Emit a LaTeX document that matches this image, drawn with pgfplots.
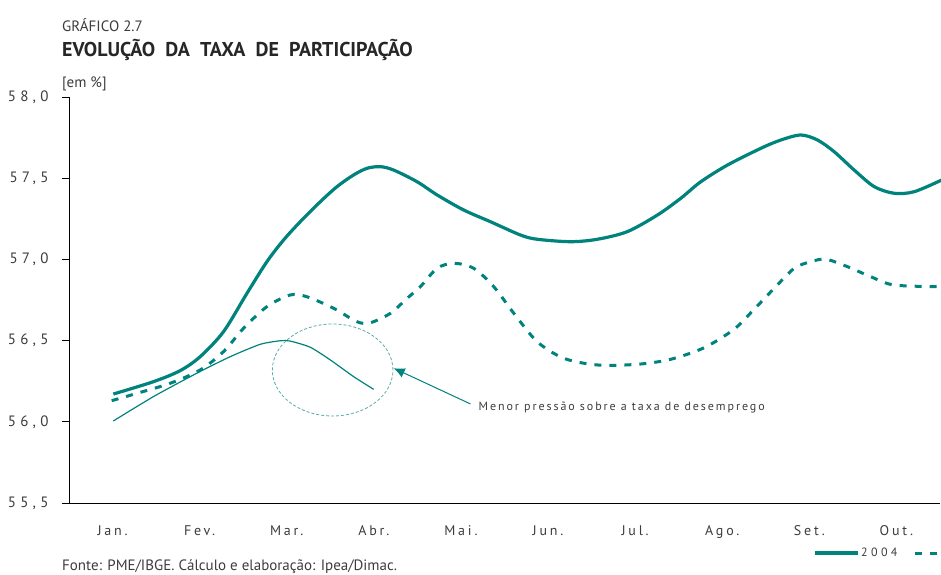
\documentclass[border=0pt]{standalone}
\usepackage{pgfplots}
\pgfplotsset{compat=1.18}
\usetikzlibrary{arrows.meta}
\usepackage{fontspec}
\setmainfont{PT Sans}
\newfontfamily\spaced[LetterSpace=20]{PT Sans}
\newfontfamily\spacedy[LetterSpace=28]{PT Sans}
\newfontfamily\spacedsmall[LetterSpace=16]{PT Sans}
\newfontfamily\spacedleg[LetterSpace=28]{PT Sans}
\definecolor{teal1}{RGB}{0,130,125}
\definecolor{teallight}{RGB}{90,170,165}
\definecolor{txtgray}{RGB}{60,60,60}
\begin{document}
\begin{tikzpicture}
\useasboundingbox (0,0) rectangle (941pt,574pt);
\begin{axis}[
  at={(69pt,71pt)}, anchor=south west,
  width=871pt, height=406pt, scale only axis,
  xmin=0, xmax=10, ymin=55.5, ymax=58.0,
  axis lines=left, axis line style={-, line width=0.8pt, black},
  clip=false,
  ytick={55.5,56,56.5,57,57.5,58},
  yticklabel style={font=\spacedy\fontsize{15}{16}\selectfont, color=txtgray, xshift=-10pt},
  /pgf/number format/.cd, fixed, fixed zerofill, precision=1, use comma, assume math mode=true,
  /pgfplots/.cd,
  y tick style={black, line width=0.8pt},
  major tick length=7pt,
  tick align=outside,
  xtick={0.5,1.5,...,9.5},
  xticklabels={Jan.,Fev.,Mar.,Abr.,Mai.,Jun.,Jul.,Ago.,Set.,Out.},
  x tick style={draw=none},
  minor xtick={0,1,...,10},
  minor x tick style={black, line width=0.8pt},
  minor tick length=5pt,
  xticklabel style={font=\spaced\fontsize{14}{15}\selectfont, color=txtgray, yshift=-12pt},
  legend style={at={(axis cs:8.54,55.192)}, anchor=west, draw=none, fill=none, inner sep=0pt,
    font=\spacedleg\fontsize{12}{13}\selectfont, text=txtgray},
  legend columns=-1,
  legend image code/.code={\draw[#1] (0pt,0pt) -- (43pt,0pt);},
  /tikz/every even column/.append style={column sep=14pt},
]
% 2004 (thick solid)
\addplot[teal1, line width=3.2pt, smooth, tension=0.5] coordinates {
(0.509,56.171) (0.969,56.247) (1.276,56.315) (1.506,56.401) (1.774,56.555)
(2.043,56.791) (2.272,56.986) (2.463,57.119) (2.655,57.232) (2.885,57.355)
(3.077,57.448) (3.268,57.520) (3.422,57.561) (3.575,57.571) (3.728,57.550)
(3.997,57.478) (4.226,57.397) (4.532,57.304) (4.839,57.232) (5.184,57.150)
(5.376,57.124) (5.759,57.109) (6.066,57.124) (6.410,57.171) (6.755,57.273)
(7.023,57.376) (7.253,57.478) (7.560,57.581) (7.943,57.684) (8.172,57.735)
(8.402,57.766) (8.594,57.735) (8.785,57.663) (9.015,57.550) (9.245,57.448)
(9.475,57.407) (9.705,57.417) (10.02,57.489)
};
\addlegendentry{2004}
% 2005 (dashed)
\addplot[teal1, line width=3pt, dash pattern=on 7pt off 8pt, smooth, tension=0.5] coordinates {
(0.49,56.130) (0.778,56.175) (1.161,56.237) (1.506,56.319) (1.774,56.432)
(2.004,56.576) (2.272,56.709) (2.540,56.781) (2.732,56.770) (3.038,56.699)
(3.307,56.616) (3.460,56.610) (3.690,56.668) (3.881,56.760) (4.034,56.832)
(4.226,56.945) (4.418,56.976) (4.647,56.945) (4.877,56.832) (5.107,56.668)
(5.376,56.493) (5.682,56.391) (6.066,56.350) (6.525,56.354) (6.908,56.385)
(7.291,56.456) (7.636,56.570) (7.866,56.693) (8.096,56.822) (8.326,56.945)
(8.517,56.986) (8.690,57.001) (8.939,56.955) (9.207,56.893) (9.475,56.842)
(10.02,56.832)
};
\addlegendentry{}
% 2006 (thin solid)
\addplot[teal1, line width=1.2pt, smooth, tension=0.4, forget plot] coordinates {
(0.509,56.005) (0.969,56.155) (1.467,56.299) (1.851,56.401) (2.195,56.477)
(2.425,56.499) (2.540,56.497) (2.770,56.459) (3.000,56.381) (3.268,56.278)
(3.498,56.200)
};
\draw[teallight, line width=0.8pt, dash pattern=on 3pt off 2pt] (axis cs:3.027,56.319) ellipse [x radius=60.3pt, y radius=46pt];
\draw[teal1, line width=1pt, -{Latex[length=11pt,width=10pt]}] (axis cs:4.609,56.110) -- (axis cs:3.728,56.330);
\node[anchor=west, inner sep=0pt, text=txtgray, font=\spacedsmall\fontsize{12}{13}\selectfont] at (axis cs:4.701,56.091) {Menor pressão sobre a taxa de desemprego};
\end{axis}
\node[anchor=base west, inner sep=0pt, text=txtgray, font=\fontsize{15}{16}\selectfont] at (62pt,542pt) {GRÁFICO 2.7};
\node[anchor=base west, inner sep=0pt, text=black!85, font=\bfseries\fontsize{20}{21}\selectfont] at (62pt,517pt) {EVOLUÇÃO\ \ DA\ \ TAXA\ \ DE\ \ PARTICIPAÇÃO};
\node[anchor=base west, inner sep=0pt, text=txtgray, font=\fontsize{15}{16}\selectfont] at (62pt,486pt) {[em \%]};
\node[anchor=base west, inner sep=0pt, text=txtgray, font=\fontsize{15}{16}\selectfont] at (62pt,4pt) {Fonte: PME/IBGE. Cálculo e elaboração: Ipea/Dimac.};
\end{tikzpicture}
\end{document}
